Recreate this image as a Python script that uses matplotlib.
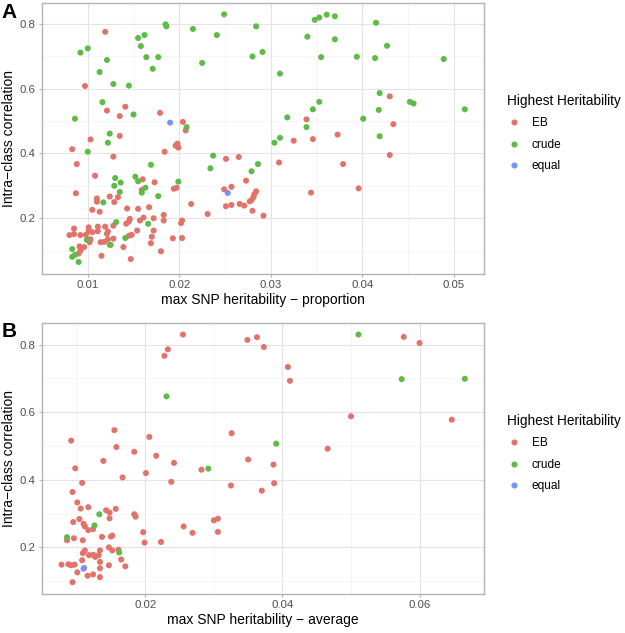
import numpy as np
import matplotlib.pyplot as plt
from matplotlib.lines import Line2D

plt.rcParams['font.family'] = ['Liberation Sans', 'DejaVu Sans']

# colours for the "Highest Heritability" groups
COLS = {"EB": "#E2736A", "crude": "#5DBB46", "equal": "#6F97F8"}
GROUPS = ["EB", "crude", "equal"]

# ---- panel A : max SNP heritability - proportion ----
a_eb_x = [0.0119, 0.0097, 0.0121, 0.0141, 0.0135, 0.0179, 0.0204, 0.0207, 0.0135, 0.0103,
          0.0083, 0.0198, 0.0196, 0.0199, 0.0184, 0.0128, 0.0088, 0.0251, 0.0265, 0.0108,
          0.0160, 0.0159, 0.0173, 0.0087, 0.0110, 0.0110, 0.0124, 0.0129, 0.0133, 0.0194,
          0.0197, 0.0257, 0.0249, 0.0273, 0.0266, 0.0271, 0.0257, 0.0251, 0.0284, 0.0282,
          0.0281, 0.0279, 0.0277, 0.0231, 0.0280, 0.0292, 0.0213, 0.0167, 0.0155, 0.0143,
          0.0105, 0.0113, 0.0183, 0.0183, 0.0172, 0.0203, 0.0202, 0.0161, 0.0157, 0.0146,
          0.0145, 0.0142, 0.0154, 0.0145, 0.0148, 0.0172, 0.0170, 0.0169, 0.0139, 0.0147,
          0.0180, 0.0193, 0.0203, 0.0128, 0.0119, 0.0122, 0.0121, 0.0111, 0.0111, 0.0101,
          0.0101, 0.0105, 0.0098, 0.0102, 0.0103, 0.0096, 0.0091, 0.0092, 0.0090, 0.0080,
          0.0085, 0.0085, 0.0092, 0.0114, 0.0118, 0.0122, 0.0124, 0.0128, 0.0115, 0.0325,
          0.0309, 0.0339, 0.0346, 0.0344, 0.0430, 0.0434, 0.0373, 0.0430, 0.0379, 0.0396]
a_eb_y = [0.775, 0.608, 0.532, 0.544, 0.515, 0.525, 0.497, 0.471, 0.454, 0.443,
          0.413, 0.430, 0.424, 0.418, 0.405, 0.390, 0.367, 0.383, 0.389, 0.331,
          0.320, 0.287, 0.311, 0.277, 0.261, 0.251, 0.267, 0.250, 0.265, 0.291,
          0.294, 0.297, 0.289, 0.316, 0.244, 0.239, 0.241, 0.237, 0.283, 0.274,
          0.265, 0.256, 0.252, 0.213, 0.223, 0.208, 0.244, 0.234, 0.229, 0.230,
          0.226, 0.220, 0.210, 0.193, 0.200, 0.193, 0.185, 0.202, 0.193, 0.198,
          0.190, 0.183, 0.162, 0.146, 0.149, 0.162, 0.143, 0.123, 0.111, 0.074,
          0.098, 0.138, 0.139, 0.177, 0.174, 0.159, 0.152, 0.174, 0.160, 0.172,
          0.161, 0.157, 0.149, 0.126, 0.135, 0.111, 0.113, 0.100, 0.091, 0.148,
          0.151, 0.168, 0.148, 0.126, 0.127, 0.135, 0.118, 0.137, 0.084, 0.439,
          0.372, 0.505, 0.444, 0.279, 0.576, 0.490, 0.458, 0.395, 0.367, 0.292]

a_crude_x = [0.0249, 0.0185, 0.0186, 0.0215, 0.0284, 0.0241, 0.0155, 0.0162, 0.0158, 0.0092,
             0.0100, 0.0121, 0.0113, 0.0164, 0.0177, 0.0171, 0.0225, 0.0280, 0.0291, 0.0128,
             0.0145, 0.0310, 0.0116, 0.0086, 0.0150, 0.0208, 0.0124, 0.0122, 0.0100, 0.0318,
             0.0310, 0.0304, 0.0339, 0.0346, 0.0353, 0.0340, 0.0237, 0.0234, 0.0169, 0.0130,
             0.0136, 0.0129, 0.0135, 0.0152, 0.0155, 0.0163, 0.0159, 0.0199, 0.0177, 0.0117,
             0.0279, 0.0286, 0.0131, 0.0166, 0.0141, 0.0099, 0.0125, 0.0083, 0.0083, 0.0086,
             0.0090, 0.0348, 0.0353, 0.0361, 0.0370, 0.0415, 0.0370, 0.0427, 0.0355, 0.0394,
             0.0414, 0.0489, 0.0419, 0.0452, 0.0456, 0.0512, 0.0418, 0.0401, 0.0419]
a_crude_y = [0.829, 0.798, 0.792, 0.784, 0.792, 0.765, 0.756, 0.765, 0.731, 0.711,
             0.724, 0.688, 0.651, 0.697, 0.697, 0.661, 0.679, 0.699, 0.713, 0.614,
             0.609, 0.646, 0.558, 0.507, 0.520, 0.481, 0.461, 0.433, 0.405, 0.511,
             0.448, 0.433, 0.481, 0.536, 0.559, 0.760, 0.393, 0.354, 0.365, 0.324,
             0.310, 0.300, 0.281, 0.328, 0.314, 0.294, 0.279, 0.313, 0.268, 0.249,
             0.345, 0.367, 0.188, 0.183, 0.139, 0.133, 0.118, 0.105, 0.081, 0.087,
             0.065, 0.812, 0.819, 0.828, 0.823, 0.803, 0.752, 0.732, 0.697, 0.698,
             0.694, 0.691, 0.586, 0.559, 0.554, 0.536, 0.534, 0.507, 0.453]

a_equal_x = [0.0190, 0.0253]
a_equal_y = [0.495, 0.278]

# ---- panel B : max SNP heritability - average ----
b_eb_x = [0.0255, 0.0233, 0.0228, 0.0349, 0.0363, 0.0373, 0.0408, 0.0411, 0.0326, 0.0155,
          0.0158, 0.0092, 0.0206, 0.0184, 0.0216, 0.0242, 0.0139, 0.0098, 0.0350, 0.0387,
          0.0282, 0.0201, 0.0167, 0.0238, 0.0325, 0.0370, 0.0388, 0.0108, 0.0094, 0.0101,
          0.0106, 0.0117, 0.0143, 0.0148, 0.0157, 0.0148, 0.0104, 0.0095, 0.0110, 0.0112,
          0.0117, 0.0124, 0.0184, 0.0186, 0.0256, 0.0269, 0.0300, 0.0306, 0.0306, 0.0197,
          0.0199, 0.0223, 0.0137, 0.0150, 0.0152, 0.0147, 0.0152, 0.0161, 0.0109, 0.0096,
          0.0086, 0.0112, 0.0109, 0.0108, 0.0118, 0.0124, 0.0127, 0.0132, 0.0134, 0.0134,
          0.0147, 0.0165, 0.0171, 0.0078, 0.0088, 0.0092, 0.0097, 0.0111, 0.0101, 0.0116,
          0.0124, 0.0134, 0.0134, 0.0094, 0.0577, 0.0600, 0.0500, 0.0647, 0.0466]
b_eb_y = [0.830, 0.786, 0.767, 0.814, 0.822, 0.793, 0.734, 0.693, 0.538, 0.547,
          0.497, 0.516, 0.527, 0.483, 0.471, 0.450, 0.456, 0.434, 0.460, 0.445,
          0.430, 0.420, 0.407, 0.394, 0.383, 0.368, 0.390, 0.391, 0.364, 0.333,
          0.315, 0.319, 0.310, 0.303, 0.314, 0.286, 0.284, 0.275, 0.270, 0.262,
          0.251, 0.254, 0.298, 0.291, 0.262, 0.243, 0.280, 0.285, 0.246, 0.245,
          0.214, 0.216, 0.231, 0.232, 0.235, 0.200, 0.191, 0.193, 0.221, 0.227,
          0.221, 0.191, 0.183, 0.162, 0.177, 0.178, 0.172, 0.177, 0.191, 0.157,
          0.147, 0.164, 0.144, 0.149, 0.150, 0.147, 0.149, 0.139, 0.126, 0.116,
          0.120, 0.112, 0.138, 0.097, 0.823, 0.805, 0.588, 0.578, 0.492]

b_crude_x = [0.0231, 0.0391, 0.0292, 0.0133, 0.0126, 0.0086, 0.0162, 0.0511, 0.0574, 0.0666]
b_crude_y = [0.647, 0.507, 0.433, 0.298, 0.265, 0.230, 0.185, 0.830, 0.698, 0.699]

b_equal_x = [0.0110]
b_equal_y = [0.137]

BORDER = "#B3B3B3"


def style(ax, xticks, yticks, xlim, ylim, xlabel):
    ax.set_xlim(*xlim)
    ax.set_ylim(*ylim)
    ax.set_xticks(xticks)
    ax.set_yticks(yticks)
    ax.set_xticklabels([("%g" % t) for t in xticks])
    ax.set_yticklabels(["%.1f" % t for t in yticks])
    # minor grid halfway between majors, like ggplot
    dx = xticks[1] - xticks[0]
    dy = yticks[1] - yticks[0]
    ax.set_xticks(np.arange(xticks[0] - dx / 2, xlim[1], dx), minor=True)
    ax.set_yticks(np.arange(yticks[0] - dy / 2, ylim[1], dy), minor=True)
    ax.grid(True, which="major", color="#E3E3E3", lw=0.8)
    ax.grid(True, which="minor", color="#F2F2F2", lw=0.5)
    ax.set_axisbelow(True)
    for s in ax.spines.values():
        s.set_color(BORDER)
        s.set_linewidth(1.0)
    ax.tick_params(which="major", length=2.5, color=BORDER, labelsize=8.2,
                   labelcolor="#4D4D4D", pad=2)
    ax.tick_params(which="minor", length=0)
    ax.set_xlabel(xlabel, fontsize=10, labelpad=2)
    ax.set_ylabel("Intra\u2212class correlation", fontsize=10, labelpad=3)


def add_legend(ax):
    handles = [Line2D([], [], ls="", marker="o", ms=4.4, mec="none", mfc=COLS[g]) for g in GROUPS]
    leg = ax.legend(handles, GROUPS, title="Highest Heritability", loc="center left",
                    bbox_to_anchor=(1.027, 0.52), frameon=False, fontsize=8.6,
                    title_fontsize=9.8, handletextpad=0.9, labelspacing=0.8,
                    handlelength=1.2, alignment="left")
    return leg


fig = plt.figure(figsize=(6.25, 6.33), dpi=100)
axA = fig.add_axes([0.0672, 0.567, 0.7072, 0.4283])
axB = fig.add_axes([0.0672, 0.0616, 0.7072, 0.4286])

for g, xs, ys in [("EB", a_eb_x, a_eb_y), ("crude", a_crude_x, a_crude_y), ("equal", a_equal_x, a_equal_y)]:
    axA.scatter(xs, ys, s=19, color=COLS[g], edgecolors="none", zorder=3)
for g, xs, ys in [("EB", b_eb_x, b_eb_y), ("crude", b_crude_x, b_crude_y), ("equal", b_equal_x, b_equal_y)]:
    axB.scatter(xs, ys, s=19, color=COLS[g], edgecolors="none", zorder=3)

style(axA, [0.01, 0.02, 0.03, 0.04, 0.05], [0.2, 0.4, 0.6, 0.8], (0.0059, 0.0533), (0.0277, 0.864),
      "max SNP heritability \u2212 proportion")
style(axB, [0.02, 0.04, 0.06], [0.2, 0.4, 0.6, 0.8], (0.00495, 0.0694), (0.062, 0.865),
      "max SNP heritability \u2212 average")
add_legend(axA)
add_legend(axB)

fig.text(0.003, 0.980, "A", fontsize=15, fontweight="bold", va="center")
fig.text(0.003, 0.477, "B", fontsize=15, fontweight="bold", va="center")

fig.savefig("out.png", dpi=100)
